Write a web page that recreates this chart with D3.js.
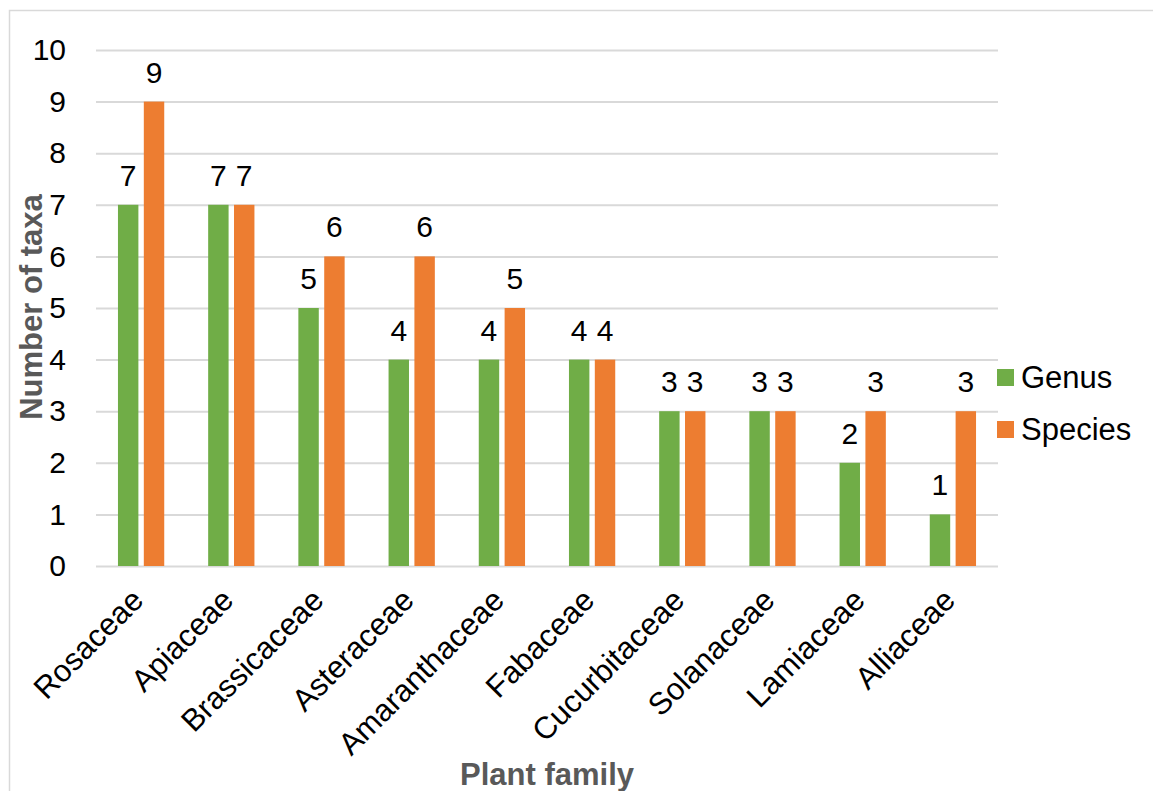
<!DOCTYPE html>
<html>
<head>
<meta charset="utf-8">
<script src="https://cdn.jsdelivr.net/npm/d3@7"></script>
<style>
  html, body { margin: 0; padding: 0; background: #fff; }
  svg { display: block; font-family: "Liberation Sans", Arial, sans-serif; }
</style>
</head>
<body>
<svg id="chart" width="1153" height="791"></svg>
<script>
// Plant families and taxa counts
const families = ["Rosaceae", "Apiaceae", "Brassicaceae", "Asteraceae", "Amaranthaceae",
                  "Fabaceae", "Cucurbitaceae", "Solanaceae", "Lamiaceae", "Alliaceae"];
const genusCounts   = [7, 7, 5, 4, 4, 4, 3, 3, 2, 1];
const speciesCounts = [9, 7, 6, 6, 5, 4, 3, 3, 3, 3];
const seriesNames  = ["Genus", "Species"];
const seriesColors = ["#70AD47", "#ED7D31"];
const yTicks = [0, 1, 2, 3, 4, 5, 6, 7, 8, 9, 10];

const rows = families.map((f, i) => ({ family: f, values: [genusCounts[i], speciesCounts[i]] }));

const svg = d3.select("#chart");
const W = 1153, H = 791;
const plot = { left: 96, right: 998, top: 50, bottom: 566 };
const FS = 31;

// Chart frame
svg.append("rect")
  .attr("x", 9.5).attr("y", 10.5)
  .attr("width", W + 20).attr("height", H + 20)
  .attr("fill", "none").attr("stroke", "#D9D9D9").attr("stroke-width", 1.5);

const x0 = d3.scaleBand().domain(families)
  .range([plot.left, plot.right]).paddingInner(0.487).paddingOuter(0.2435);
const x1 = d3.scaleBand().domain(seriesNames)
  .range([0, x0.bandwidth()]).paddingInner(0.21);
const y = d3.scaleLinear().domain([0, 10]).range([plot.bottom, plot.top]);

// Horizontal gridlines and value axis
const yAxis = svg.append("g")
  .attr("transform", `translate(${plot.left},0)`)
  .call(d3.axisLeft(y).tickValues(yTicks).tickFormat(d3.format("d"))
    .tickSize(-(plot.right - plot.left)).tickPadding(30));
yAxis.select(".domain").remove();
yAxis.selectAll(".tick line").attr("stroke", "#D9D9D9").attr("stroke-width", 2);
yAxis.selectAll(".tick text")
  .attr("font-size", 30).attr("fill", "#000").attr("font-family", "Liberation Sans, Arial, sans-serif");

// Bars
const groups = svg.append("g").selectAll("g").data(rows).join("g")
  .attr("transform", d => `translate(${x0(d.family)},0)`);

groups.selectAll("rect")
  .data(d => d.values.map((v, i) => ({ key: seriesNames[i], value: v, color: seriesColors[i] })))
  .join("rect")
  .attr("x", d => x1(d.key))
  .attr("y", d => y(d.value))
  .attr("width", x1.bandwidth())
  .attr("height", d => y(0) - y(d.value))
  .attr("fill", d => d.color);

// Value labels
groups.selectAll("text.val")
  .data(d => d.values.map((v, i) => ({ key: seriesNames[i], value: v })))
  .join("text")
  .attr("class", "val")
  .attr("x", d => x1(d.key) + x1.bandwidth() / 2)
  .attr("y", d => y(d.value) - 19)
  .attr("text-anchor", "middle")
  .attr("font-size", 30)
  .attr("fill", "#000")
  .text(d => d.value);

// Category axis labels
const xAxis = svg.append("g")
  .attr("transform", `translate(0,${plot.bottom})`)
  .call(d3.axisBottom(x0).tickSize(0));
xAxis.select(".domain").remove();
xAxis.selectAll(".tick text")
  .attr("font-size", FS).attr("fill", "#000")
  .attr("font-family", "Liberation Sans, Arial, sans-serif")
  .attr("text-anchor", "end")
  .attr("x", 0).attr("y", 0).attr("dy", 0)
  .attr("transform", "translate(4,36) rotate(-45)");

// Axis titles
svg.append("text")
  .attr("x", 547).attr("y", 785)
  .attr("text-anchor", "middle")
  .attr("font-size", FS).attr("font-weight", "bold").attr("fill", "#595959")
  .text("Plant family");

svg.append("text")
  .attr("transform", "translate(42,307) rotate(-90)")
  .attr("text-anchor", "middle")
  .attr("font-size", FS).attr("font-weight", "bold").attr("fill", "#595959")
  .text("Number of taxa");

// Legend
const legend = svg.append("g").selectAll("g").data(seriesNames).join("g")
  .attr("transform", (d, i) => `translate(997,${369 + i * 52})`);
legend.append("rect")
  .attr("width", 17).attr("height", 17)
  .attr("fill", (d, i) => seriesColors[i]);
legend.append("text")
  .attr("x", 24).attr("y", 19)
  .attr("font-size", FS).attr("fill", "#000")
  .text(d => d);
</script>
</body>
</html>
